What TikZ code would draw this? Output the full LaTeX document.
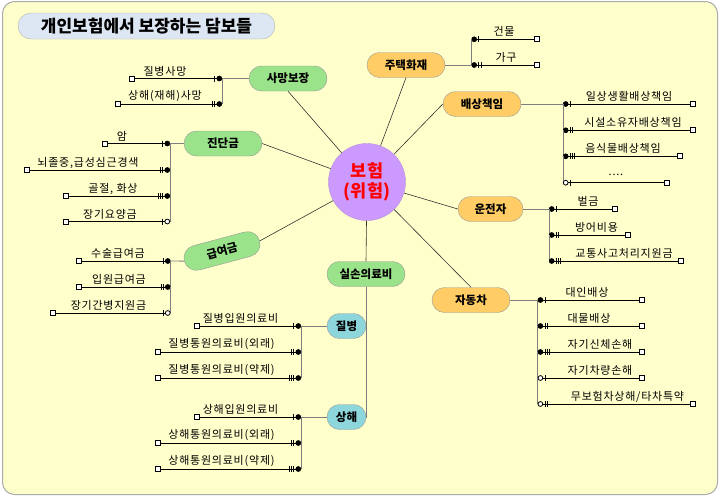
\documentclass[tikz,border=0pt]{standalone}
\usepackage{fontspec}
\setmainfont{Noto Sans CJK KR}
\usepackage{xcolor}
\usepackage{tikz}
\usetikzlibrary{calc}

\definecolor{paper}{HTML}{FFFFCC}
\definecolor{framegray}{HTML}{ABABAB}
\definecolor{titlefill}{HTML}{DDE7F3}
\definecolor{greenhub}{HTML}{9BE38B}
\definecolor{orangehub}{HTML}{FFCC66}
\definecolor{cyanhub}{HTML}{8DD7DC}
\definecolor{violethub}{HTML}{CC99FF}
\definecolor{busgray}{HTML}{7F7F7F}

\newcommand{\moredots}{....}

% one group of leaves: name, bus x, side (-1 left / 1 right), items y/end x/label x/text/ticks/dot fill
\newcommand{\leaves}[4]{%
  \foreach \y/\ex/\lx/\txt/\k/\f [count=\i] in {#4} {
    \pgfmathtruncatemacro{\j}{\i-1}
    \coordinate (#1-b-\i) at (#2,\y);
    \coordinate (#1-d-\i) at ({#2+(#3)*2.7},\y);
    \node[leafend] (#1-\i) at (\ex,\y) {};
    \node[leaflabel] at (\lx,\y-7.5) {\txt};
    \ifnum\i>1 \draw[bus] (#1-b-\j) -- (#1-b-\i); \fi
    \draw[leafline] (#1-d-\i) -- (#1-\i);
    \foreach \t in {1,...,\k}
      \draw[leafline] ($(#1-d-\i)+({(#3)*(2.2+2.3*\t)},-3)$) -- ++(0,6);
    \draw[leafline, fill=\f] (#1-d-\i) circle (2.4);
  }%
}

\begin{document}
\begin{tikzpicture}[x=1pt, y=-1pt]
    \tikzstyle{hub} = [rectangle, rounded corners=12.5pt, draw=gray!80, minimum width=78pt, minimum height=25pt, inner sep=0pt, font=\fontsize{11.5}{13}\selectfont\bfseries]
    \tikzstyle{leafend} = [rectangle, draw, fill=white, line width=0.8pt, minimum size=5pt, inner sep=0pt]
    \tikzstyle{leaflabel} = [inner sep=0pt, font=\fontsize{11}{12}\selectfont\addfontfeature{LetterSpace=7}]
    \tikzstyle{leafline} = [draw=black, line width=0.8pt]
    \tikzstyle{bus} = [draw=busgray, line width=0.8pt]
    \tikzstyle{spoke} = [draw=black!80, line width=0.6pt]

    \useasboundingbox (0,0) rectangle (720,496);
    \draw[draw=framegray, line width=1pt, fill=paper, rounded corners=12pt] (2.5,1.5) rectangle (717.5,494.5);

    % Title
    \node[rectangle, rounded corners=13pt, draw=gray!60, fill=titlefill, minimum width=257pt, minimum height=26pt, font=\fontsize{17}{19}\selectfont\bfseries] (title) at (146.5,26) {개인보험에서 보장하는 담보들};

    % Centre
    \node[circle, draw=violethub!70!gray, fill=violethub, minimum size=77pt, inner sep=0pt, align=center, text=red, font=\fontsize{17.5}{20}\selectfont\bfseries] (ins) at (367,182) {보험\\(위험)};

    % Left hubs
    \node[hub, fill=greenhub] (death) at (288,78.5) {사망보장};
    \node[hub, fill=greenhub] (diag) at (223,143.5) {진단금};
    \node[hub, fill=greenhub, rotate=15] (benefit) at (222,251) {급여금};
    \node[hub, fill=greenhub] (actual) at (366,274) {실손의료비};
    \node[hub, fill=cyanhub, minimum width=39pt] (sick) at (346.5,326) {질병};
    \node[hub, fill=cyanhub, minimum width=39pt] (injury) at (346.5,417) {상해};

    % Right hubs
    \node[hub, fill=orangehub] (fire) at (406,65) {주택화재};
    \node[hub, fill=orangehub] (liab) at (482,104) {배상책임};
    \node[hub, fill=orangehub, minimum width=65pt] (driver) at (490.5,209) {운전자};
    \node[hub, fill=orangehub] (car) at (471,300) {자동차};

    % Spokes
    \draw[spoke] (ins) -- (death.south);
    \draw[spoke] (ins) -- (diag.east);
    \draw[spoke] (ins) -- (benefit.east);
    \draw[spoke] (ins) -- (actual.north);
    \draw[spoke] (ins) -- (fire.south);
    \draw[spoke] (ins) -- (liab.west);
    \draw[spoke] (ins) -- (driver.west);
    \draw[spoke] (ins) -- (car.north);
    \draw[bus] (actual.south) |- (sick.east);
    \draw[bus] (actual.south) |- (injury.east);

    % Leaves, left side
    \leaves{death}{222}{-1}{78.5/132/165/질병사망/1/black, 104/118/165/상해(재해)사망/2/black}
    \leaves{diag}{170}{-1}{143.5/105/122/암/1/black, 170/27/88/{뇌졸중,급성심근경색}/2/black, 196/66/113/{골절, 화상}/3/black, 221.5/66/110/장기요양금/1/white}
    \leaves{ben}{170.5}{-1}{261/79/118/수술급여금/1/black, 287/79/119/입원급여금/2/black, 313/53/108.5/장기간병지원금/1/white}
    \leaves{sick}{301}{-1}{326/197/240.5/질병입원의료비/1/black, 352/157.5/221.5/질병통원의료비(외래)/2/black, 378/157.5/221.5/질병통원의료비(약제)/3/black}
    \leaves{inj}{301}{-1}{417/197/240.5/상해입원의료비/1/black, 443/157.5/221.5/상해통원의료비(외래)/2/black, 469/157.5/221.5/상해통원의료비(약제)/3/black}

    % Leaves, right side
    \leaves{fire}{471.5}{1}{39.3/536.5/504/건물/1/black, 65/536.5/506/가구/2/black}
    \leaves{liab}{563}{1}{104/693/629/일상생활배상책임/1/black, 130.3/693/633/시설소유자배상책임/2/black, 156.3/680/623/음식물배상책임/3/black, 182.7/666.5/616/\moredots/1/white}
    \leaves{drv}{549}{1}{209/615/588/벌금/1/black, 235/628/596.5/방어비용/2/black, 261/680.5/624/교통사고처리지원금/3/black}
    \leaves{car}{537.7}{1}{300/642.3/587/대인배상/1/black, 326/642.3/589/대물배상/2/black, 352/642.3/600/자기신체손해/3/black, 378/642.3/600/자기차량손해/1/white, 404/693.3/627.5/{무보험차상해/타차특약}/2/white}

    % Hubs to buses
    \draw[bus] (death.west) -- (death-b-1);
    \draw[bus] (diag.west) -- (diag-b-1);
    \draw[bus] (benefit.west) -- (ben-b-1);
    \draw[bus] (sick.west) -- (sick-b-1);
    \draw[bus] (injury.west) -- (inj-b-1);
    \draw[bus] (fire.east) -- (fire-b-2);
    \draw[bus] (liab.east) -- (liab-b-1);
    \draw[bus] (driver.east) -- (drv-b-1);
    \draw[bus] (car.east) -- (car-b-1);

\end{tikzpicture}
\end{document}
